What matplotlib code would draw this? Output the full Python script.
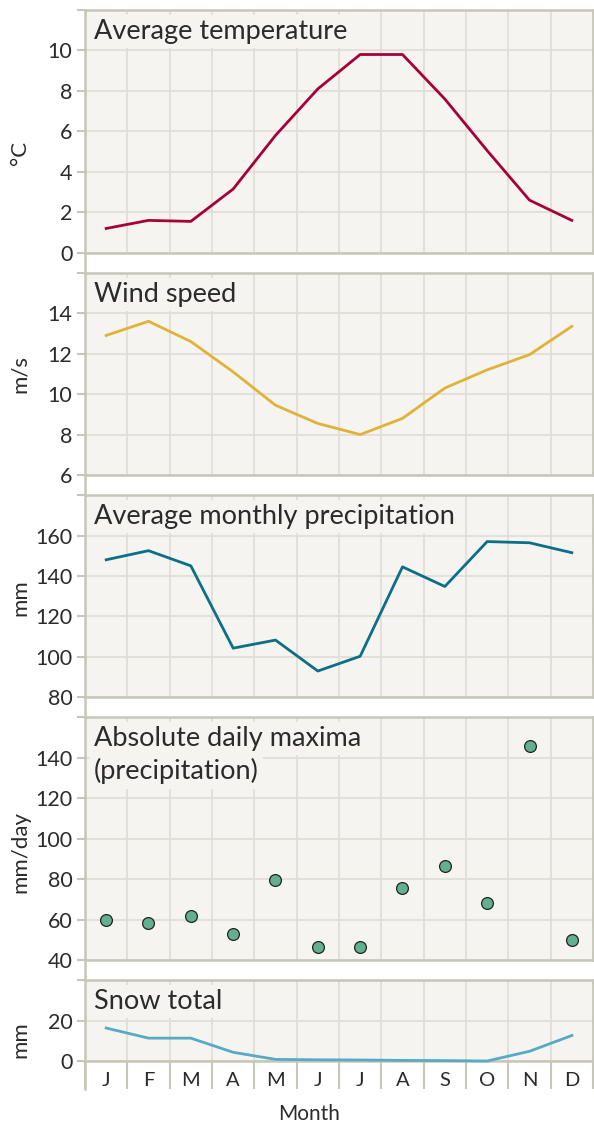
import numpy as np
import matplotlib
matplotlib.use("Agg")
import matplotlib.pyplot as plt
from matplotlib.lines import Line2D

plt.rcParams['font.family'] = ['Lato', 'DejaVu Sans']

# data
months = ["J", "F", "M", "A", "M", "J", "J", "A", "S", "O", "N", "D"]
temperature = [1.2, 1.6, 1.55, 3.15, 5.8, 8.1, 9.8, 9.8, 7.6, 5.05, 2.6, 1.6]
wind_speed = [12.9, 13.6, 12.6, 11.1, 9.45, 8.55, 8.0, 8.8, 10.3, 11.2, 11.95, 13.35]
precipitation = [148, 152.5, 145, 104.3, 108.3, 93, 100.3, 144.5, 134.8, 157, 156.4, 151.5]
daily_max = [59.7, 58.3, 61.8, 52.8, 79.5, 46.4, 46.4, 75.6, 86.3, 68, 146, 49.9]
snow_total = [16.3, 11.3, 11.3, 4.3, 0.8, 0.6, 0.5, 0.3, 0.2, 0.0, 4.8, 12.6]

BG = "#f5f4f1"
GRID = "#e0ded7"
SPINE = "#c6c6ba"
TXT = "#2b2b2b"

x = np.arange(1, 13)

panels = [
    dict(title=["Average temperature"], unit="°C", y=temperature, kind="line",
         color="#a6003a", lim=(0, 12), step=2, ylab=0.413),
    dict(title=["Wind speed"], unit="m/s", y=wind_speed, kind="line",
         color="#e0b236", lim=(6, 16), step=2, ylab=0.50),
    dict(title=["Average monthly precipitation"], unit="mm", y=precipitation, kind="line",
         color="#0c6e87", lim=(80, 180), step=20, ylab=0.495),
    dict(title=["Absolute daily maxima", "(precipitation)"], unit="mm/day", y=daily_max,
         kind="scatter", color="#62b08f", lim=(40, 160), step=20, ylab=0.444),
    dict(title=["Snow total"], unit="mm", y=snow_total, kind="line",
         color="#58aac4", lim=(0, 40), step=20, ylab=0.26),
]

fig = plt.figure(figsize=(5.94, 11.25), dpi=100)
gs = fig.add_gridspec(5, 1, height_ratios=[6, 5, 5, 6, 2], hspace=0.103,
                      left=85 / 594, right=593 / 594, top=1 - 10 / 1125, bottom=1 - 1061 / 1125)

axes = []
for i, p in enumerate(panels):
    ax = fig.add_subplot(gs[i])
    axes.append(ax)
    ax.set_facecolor(BG)
    ax.set_xlim(0.5, 12.5)
    lo, hi = p["lim"]
    ax.set_ylim(lo, hi)
    yt = np.arange(lo, hi + p["step"], p["step"])
    ax.set_yticks(yt)
    ax.set_yticklabels([str(int(v)) for v in yt[:-1]] + [""])
    ax.set_xticks(np.arange(0.5, 13, 1))
    ax.set_xticklabels([])
    ax.set_xticks(x, minor=True)
    ax.grid(True, which="major", color=GRID, lw=1.3, zorder=0)
    ax.set_axisbelow(True)
    for s in ax.spines.values():
        s.set_color(SPINE)
        s.set_linewidth(1.8)
    ax.spines["left"].set_visible(False)
    ax.tick_params(axis="y", length=6, width=1.5, color=SPINE, labelsize=15.5,
                   labelcolor=TXT, pad=3)
    ax.tick_params(axis="x", which="both", length=0)

    if p["kind"] == "line":
        ax.plot(x, p["y"], color=p["color"], lw=2.0, zorder=3, clip_on=False)
    else:
        ax.plot(x, p["y"], "o", color=p["color"], markersize=8.5,
                markeredgecolor="#222222", markeredgewidth=0.9, zorder=3)

    ax.set_ylabel(p["unit"], fontsize=16, color=TXT)
    ax.yaxis.set_label_coords(-0.108, p["ylab"])

    # each title line gets its own background box
    for k, line in enumerate(p["title"]):
        ax.annotate(line, xy=(0, 1), xycoords="axes fraction",
                    xytext=(9, -9 - 32 * k), textcoords="offset pixels",
                    ha="left", va="top", fontsize=19.5, color=TXT,
                    bbox=dict(boxstyle="square,pad=0.15", facecolor=BG, edgecolor="none"),
                    zorder=5)

# bottom panel: month letters and long boundary ticks
bot = axes[-1]
bot.set_xticklabels(months, minor=True)
bot.tick_params(axis="x", which="minor", length=0, labelsize=14.5, labelcolor=TXT, pad=8)
bot.tick_params(axis="x", which="major", length=20, width=1.5, color=SPINE)
bot.set_xlabel("Month", fontsize=15, color=TXT)
bot.xaxis.set_label_coords(0.441, -0.53)

# continuous left axis line through all panels
x0 = 85 / 594
fig.add_artist(Line2D([x0, x0], [1 - 10 / 1125, 1 - 1089 / 1125],
                      transform=fig.transFigure, color=SPINE, lw=1.8))

fig.savefig("out.png", dpi=100)
